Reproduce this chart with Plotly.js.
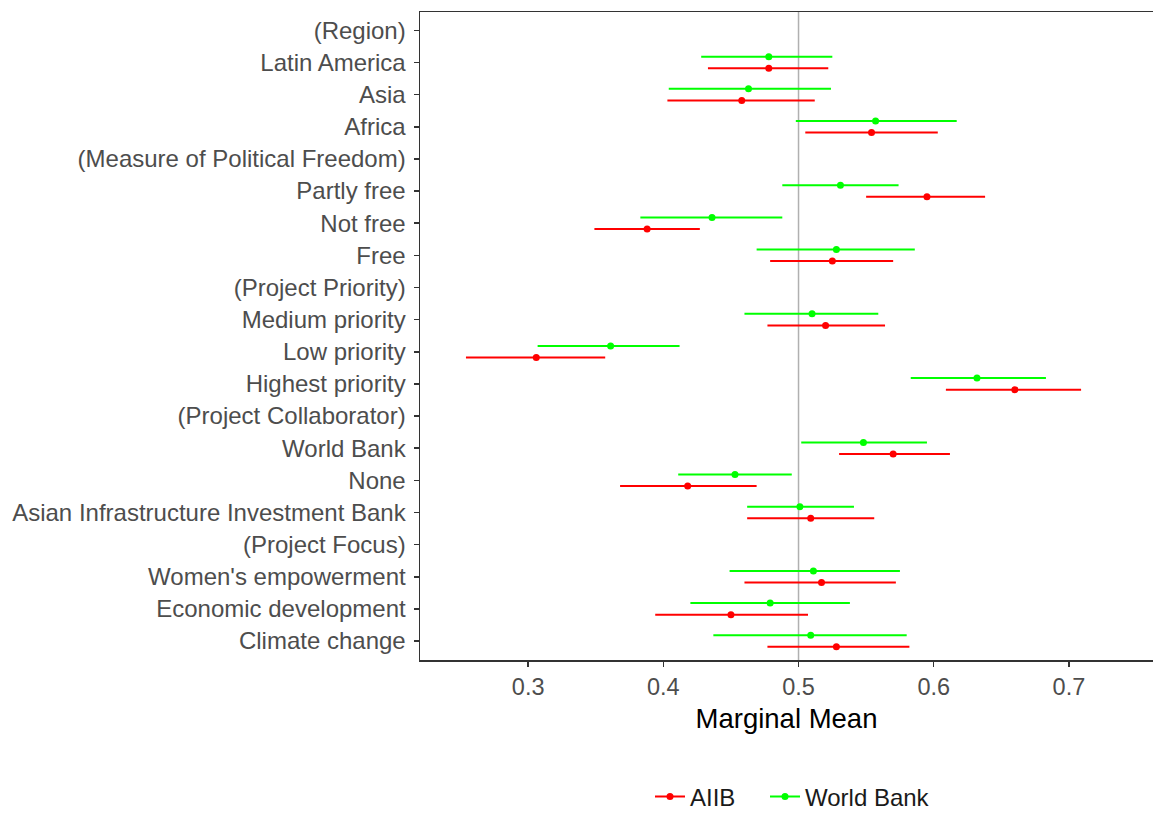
<!DOCTYPE html>
<html>
<head>
<meta charset="utf-8">
<script src="https://cdn.plot.ly/plotly-3.0.1.min.js"></script>
<style>html,body{margin:0;padding:0;background:#fff;}#chart{width:1153px;height:814px;}</style>
</head>
<body>
<div id="chart"></div>
<script>
// Categories, top to bottom
const labels = ["(Region)", "Latin America", "Asia", "Africa",
  "(Measure of Political Freedom)", "Partly free", "Not free", "Free",
  "(Project Priority)", "Medium priority", "Low priority", "Highest priority",
  "(Project Collaborator)", "World Bank", "None", "Asian Infrastructure Investment Bank",
  "(Project Focus)", "Women's empowerment", "Economic development", "Climate change"];

// AIIB series
const aiibMean = [null, 0.478, 0.458, 0.554, null, 0.595, 0.388, 0.525, null, 0.520, 0.306, 0.660, null, 0.570, 0.418, 0.509, null, 0.517, 0.450, 0.528];
const aiibLow  = [null, 0.433, 0.403, 0.505, null, 0.550, 0.349, 0.479, null, 0.477, 0.254, 0.609, null, 0.530, 0.368, 0.462, null, 0.460, 0.394, 0.477];
const aiibHigh = [null, 0.522, 0.512, 0.603, null, 0.638, 0.427, 0.570, null, 0.564, 0.357, 0.709, null, 0.612, 0.469, 0.556, null, 0.572, 0.507, 0.582];

// World Bank series
const wbMean = [null, 0.478, 0.463, 0.557, null, 0.531, 0.436, 0.528, null, 0.510, 0.361, 0.632, null, 0.548, 0.453, 0.501, null, 0.511, 0.479, 0.509];
const wbLow  = [null, 0.428, 0.404, 0.498, null, 0.488, 0.383, 0.469, null, 0.460, 0.307, 0.583, null, 0.502, 0.411, 0.462, null, 0.449, 0.420, 0.437];
const wbHigh = [null, 0.525, 0.524, 0.617, null, 0.574, 0.488, 0.586, null, 0.559, 0.412, 0.683, null, 0.595, 0.495, 0.541, null, 0.575, 0.538, 0.580];

const xTicks = [0.3, 0.4, 0.5, 0.6, 0.7];
const seriesNames = ["AIIB", "World Bank"];

const n = labels.length;
const pos = labels.map((_, i) => n - i);
const dodge = 0.18;

function buildTrace(name, mean, low, high, color, offset) {
  return {
    type: 'scatter', mode: 'markers', name: name, showlegend: false,
    x: mean,
    y: pos.map(p => p + offset),
    marker: {color: color, size: 7},
    error_x: {
      type: 'data', symmetric: false,
      array: mean.map((m, i) => m === null ? null : high[i] - m),
      arrayminus: mean.map((m, i) => m === null ? null : m - low[i]),
      color: color, thickness: 2, width: 0
    },
    hoverinfo: 'x+y'
  };
}
function legendTrace(name, color, lw) {
  return {type: 'scatter', mode: 'lines+markers', name: name, x: [null], y: [null],
    line: {color: color, width: 2}, marker: {color: color, size: 7}, showlegend: true,
    legendwidth: lw};
}

const font = "Liberation Sans, Arial, sans-serif";
const data = [
  buildTrace(seriesNames[0], aiibMean, aiibLow, aiibHigh, '#FF0000', -dodge),
  buildTrace(seriesNames[1], wbMean, wbLow, wbHigh, '#00FF00', dodge),
  legendTrace(seriesNames[0], '#FF0000', 70),
  legendTrace(seriesNames[1], '#00FF00', 135)
];

const layout = {
  width: 1153, height: 814,
  margin: {l: 420, r: 0, t: 12, b: 154, autoexpand: false},
  paper_bgcolor: '#fff', plot_bgcolor: '#fff',
  font: {family: font, color: '#4D4D4D', size: 24},
  showlegend: true,
  legend: {orientation: 'h', x: (650 - 420) / 733, xanchor: 'left', y: -(797 - 660) / 648, yanchor: 'middle',
    font: {size: 24, color: '#1a1a1a', family: font}, itemwidth: 30},
  xaxis: {
    range: [0.22, 0.7622], tickvals: xTicks, ticktext: xTicks.map(v => v.toFixed(1)),
    showgrid: false, zeroline: false, showline: true, mirror: true,
    linecolor: '#333333', linewidth: 1.5, ticks: 'outside', ticklen: 5, tickcolor: '#333333', tickwidth: 1.5,
    tickfont: {size: 23.5, color: '#4D4D4D', family: font},
    title: {text: 'Marginal Mean', font: {size: 27.5, color: '#000000', family: font}, standoff: 10}
  },
  yaxis: {
    range: [0.41, n + 0.57], tickvals: pos, ticktext: labels,
    showgrid: false, zeroline: false, showline: true, mirror: true,
    linecolor: '#333333', linewidth: 1.5, ticks: 'outside', ticklen: 5, tickcolor: '#333333', tickwidth: 1.5,
    tickfont: {size: 24, color: '#4D4D4D', family: font}, ticklabelstandoff: 3
  },
  shapes: [{type: 'line', xref: 'x', yref: 'paper', x0: 0.5, x1: 0.5, y0: 0, y1: 1,
    line: {color: '#b0b0b0', width: 1.5}, layer: 'below'}]
};

Plotly.newPlot('chart', data, layout, {displayModeBar: false, staticPlot: true});
</script>
</body>
</html>
